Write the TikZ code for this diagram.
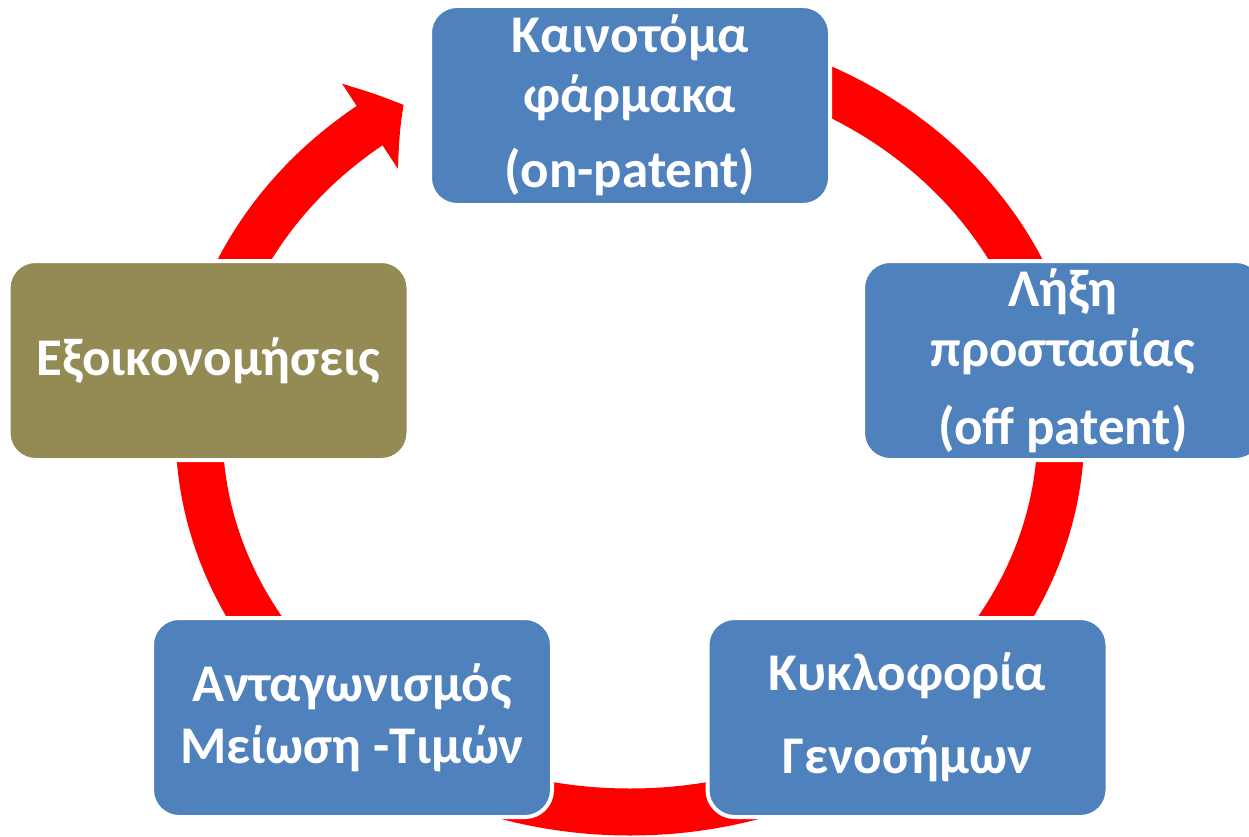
\documentclass[tikz,border=0pt]{standalone}
\usepackage{fontspec}
\setmainfont{Carlito}
\usetikzlibrary{positioning,arrows.meta,bending}
\definecolor{stageblue}{HTML}{4F81BD}
\definecolor{stageolive}{HTML}{948A54}
\definecolor{ringred}{HTML}{FF0000}
\tikzset{
  stage/.style={rectangle, rounded corners=27pt, draw=white, line width=4pt,
    fill=stageblue, text=white, align=center, inner sep=0pt,
    minimum width=400pt, minimum height=199pt},
  ring/.style={draw=ringred, line width=47pt,
    -{Triangle[width=99pt,length=40pt,bend]}},
}

\begin{document}
\begin{tikzpicture}[x=1pt, y=-1pt]
    \clip (0,0) rectangle (1249,837);
    \useasboundingbox (0,0) rectangle (1249,837);

    % the cycle, drawn under the boxes
    \coordinate (ringc) at (630,430);
    \draw[ring] (ringc) ++(-90:431 and 382)
        arc[start angle=-90, end angle=238.3, x radius=431, y radius=382];

    \node[stage, font=\bfseries\fontsize{53}{60}\selectfont] (kaino) at (630,105.5)
        {Καινοτόμα\\φάρμακα\\[15pt](on-patent)};
    \node[stage, font=\bfseries\fontsize{53}{60}\selectfont] (lixi)
        [below right=52pt and 29pt of kaino] {Λήξη\\προστασίας\\[18pt](off patent)};
    \node[stage, fill=stageolive, font=\bfseries\fontsize{53}{62}\selectfont] (eksoik)
        [below left=52pt and 17.5pt of kaino] {Εξοικονομήσεις};

    \node[stage, font=\bfseries\fontsize{53}{62}\selectfont] (antag) at (352,717.5)
        {Ανταγωνισμός\\Μείωση -Τιμών};
    \node[stage, font=\bfseries\fontsize{53}{83}\selectfont] (genos)
        [right=151.5pt of antag] {Κυκλοφορία\\Γενοσήμων};
\end{tikzpicture}
\end{document}
